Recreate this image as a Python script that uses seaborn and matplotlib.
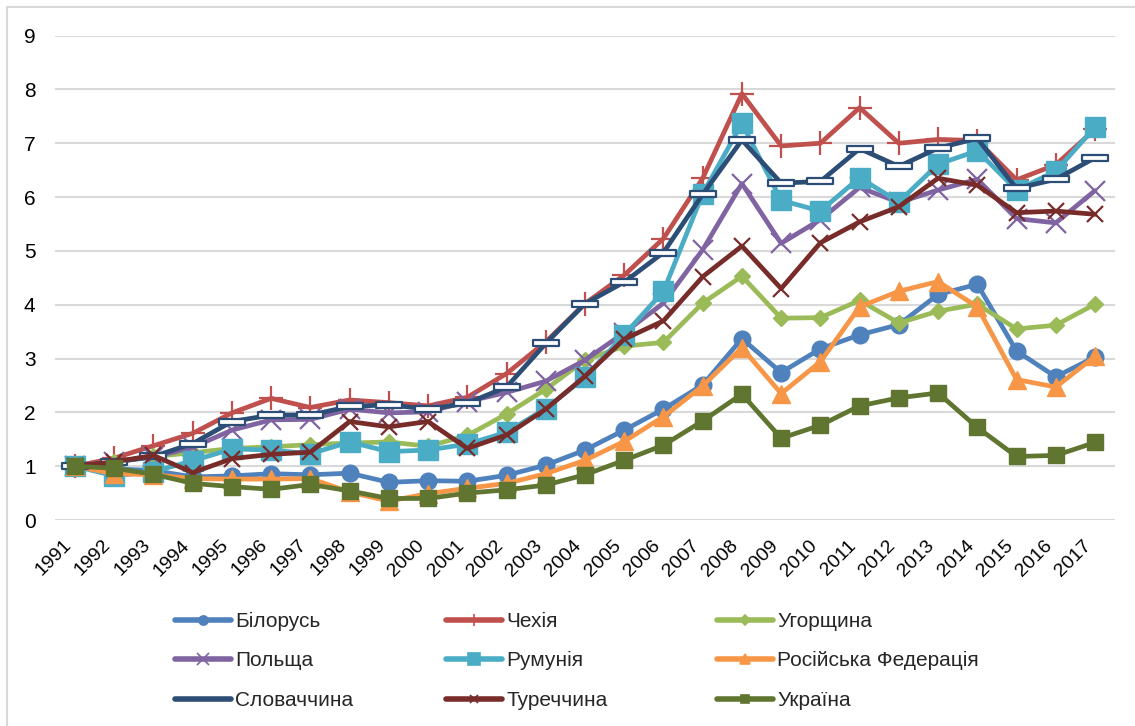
import matplotlib
matplotlib.use("Agg")
import matplotlib.pyplot as plt
from matplotlib.lines import Line2D
from matplotlib.path import Path
from matplotlib.patches import Rectangle
import seaborn as sns
import pandas as pd

years = list(range(1991, 2018))

belarus = [1.00,0.95,0.92,0.80,0.82,0.86,0.84,0.87,0.70,0.73,0.72,0.83,1.02,1.30,1.67,2.06,2.51,3.37,2.74,3.18,3.44,3.63,4.19,4.38,3.14,2.66,3.03]
czech = [1.00,1.15,1.38,1.61,1.99,2.26,2.09,2.23,2.18,2.12,2.28,2.72,3.31,4.02,4.55,5.23,6.35,7.92,6.95,7.00,7.66,7.00,7.07,7.05,6.32,6.60,7.26]
hungary = [1.00,1.08,1.18,1.25,1.33,1.36,1.40,1.43,1.45,1.37,1.57,1.97,2.43,2.97,3.23,3.30,4.03,4.53,3.75,3.76,4.08,3.66,3.88,4.01,3.55,3.62,4.01]
poland = [1.00,1.08,1.17,1.35,1.67,1.86,1.87,2.06,1.99,2.01,2.20,2.37,2.58,2.97,3.48,4.03,5.02,6.25,5.14,5.58,6.18,5.90,6.13,6.33,5.60,5.52,6.12]
romania = [1.00,0.82,0.90,1.10,1.32,1.30,1.23,1.45,1.27,1.30,1.41,1.63,2.07,2.65,3.44,4.25,6.06,7.37,5.94,5.74,6.36,5.91,6.61,6.86,6.13,6.48,7.30]
russia = [1.00,0.86,0.84,0.77,0.76,0.76,0.77,0.52,0.35,0.49,0.59,0.68,0.86,1.11,1.46,1.92,2.49,3.20,2.35,2.94,3.96,4.25,4.43,3.96,2.61,2.47,3.04]
slovakia = [1.00,1.08,1.18,1.42,1.83,1.95,1.95,2.11,2.14,2.06,2.17,2.47,3.28,4.02,4.42,4.97,6.05,7.06,6.26,6.29,6.90,6.57,6.91,7.09,6.16,6.33,6.73]
turkey = [1.00,1.08,1.20,0.88,1.14,1.22,1.26,1.83,1.73,1.83,1.33,1.58,2.06,2.67,3.36,3.70,4.52,5.09,4.30,5.15,5.54,5.82,6.35,6.22,5.71,5.74,5.68]
ukraine = [1.00,0.96,0.85,0.68,0.62,0.57,0.66,0.54,0.40,0.40,0.50,0.56,0.65,0.84,1.11,1.39,1.84,2.34,1.52,1.76,2.12,2.27,2.36,1.72,1.18,1.20,1.44]

names = ['Білорусь', 'Чехія', 'Угорщина', 'Польща', 'Румунія',
         'Російська Федерація', 'Словаччина', 'Туреччина', 'Україна']
series = [belarus, czech, hungary, poland, romania, russia, slovakia, turkey, ukraine]

sns.set_theme(style="white")
plt.rcParams['font.family'] = ['Liberation Sans', 'DejaVu Sans']

rect_marker = Path([(-1, -0.25), (1, -0.25), (1, 0.25), (-1, 0.25), (-1, -0.25)],
                   [Path.MOVETO, Path.LINETO, Path.LINETO, Path.LINETO, Path.CLOSEPOLY])

styles = {
    'Білорусь': dict(color='#4F81BD', marker='o', ms=12),
    'Чехія': dict(color='#C0504D', marker='+', ms=17, mew=1.6),
    'Угорщина': dict(color='#9BBB59', marker='D', ms=8),
    'Польща': dict(color='#8064A2', marker='x', ms=15, mew=1.6),
    'Румунія': dict(color='#4BACC6', marker='s', ms=15),
    'Російська Федерація': dict(color='#F79646', marker='^', ms=13),
    'Словаччина': dict(color='#2C4D75', marker=rect_marker, ms=19, mew=1.6, mfc='white'),
    'Туреччина': dict(color='#772C2A', marker='x', ms=11, mew=1.6),
    'Україна': dict(color='#5F7530', marker='s', ms=11),
}

df = pd.DataFrame({'year': years * len(names),
                   'country': [n for n in names for _ in years],
                   'value': [v for s in series for v in s]})

W, H = 1135, 726
fig = plt.figure(figsize=(W / 100, H / 100), dpi=100)
ax = fig.add_axes([55 / W, 1 - 520 / H, (1115 - 55) / W, (520 - 35.6) / H])

for n in names:
    st = styles[n]
    sub = df[df['country'] == n]
    kw = dict(marker=st['marker'], markersize=st['ms'], color=st['color'],
              markeredgecolor=st['color'], markerfacecolor=st.get('mfc', st['color']),
              markeredgewidth=st.get('mew', 1.0), linewidth=3.4)
    sns.lineplot(data=sub, x='year', y='value', ax=ax, legend=False, **kw)

ax.set_xlim(1990.49, 2017.51)
ax.set_ylim(0, 9)
ax.set_yticks(range(0, 10))
ax.set_xticks(years)
ax.set_xticklabels([str(y) for y in years], rotation=45, ha='right', va='top')
ax.set_xlabel('')
ax.set_ylabel('')
ax.yaxis.grid(True, color='#d9d9d9', linewidth=1.5)
ax.xaxis.grid(False)
ax.set_axisbelow(True)
for s in ax.spines.values():
    s.set_visible(False)
ax.tick_params(axis='y', length=0, pad=14, labelsize=15, labelcolor='black')
ax.tick_params(axis='x', length=0, pad=12, labelsize=14, labelcolor='black')
for lbl in ax.get_xticklabels():
    lbl.set_x(lbl.get_position()[0])

# outer chart border
fig.patches.append(Rectangle((7 / W, -0.02), 1.05, 1 - 7 / H + 0.02, transform=fig.transFigure,
                             fill=False, edgecolor='#d9d9d9', linewidth=1.5))

# legend: three columns
cols = [[0, 3, 6], [1, 4, 7], [2, 5, 8]]
xs = [175, 446, 717]
for xi, col in zip(xs, cols):
    handles = []
    for i in col:
        n = names[i]
        st = styles[n]
        lm = st['marker'] if n != 'Словаччина' else 'None'
        handles.append(Line2D([], [], color=st['color'], linewidth=4, marker=lm,
                              markersize=max(st['ms'] * 0.55, 5), markeredgecolor=st['color'],
                              markerfacecolor=st['color'], markeredgewidth=1.2))
    fig.legend(handles, [names[i] for i in col], loc='upper left',
               bbox_to_anchor=(xi / W, 1 - 612 / H), frameon=False, fontsize=15,
               handlelength=2.7, handletextpad=0.2, labelspacing=0.98, borderpad=0,
               borderaxespad=0)

fig.savefig('out.png', dpi=100)
